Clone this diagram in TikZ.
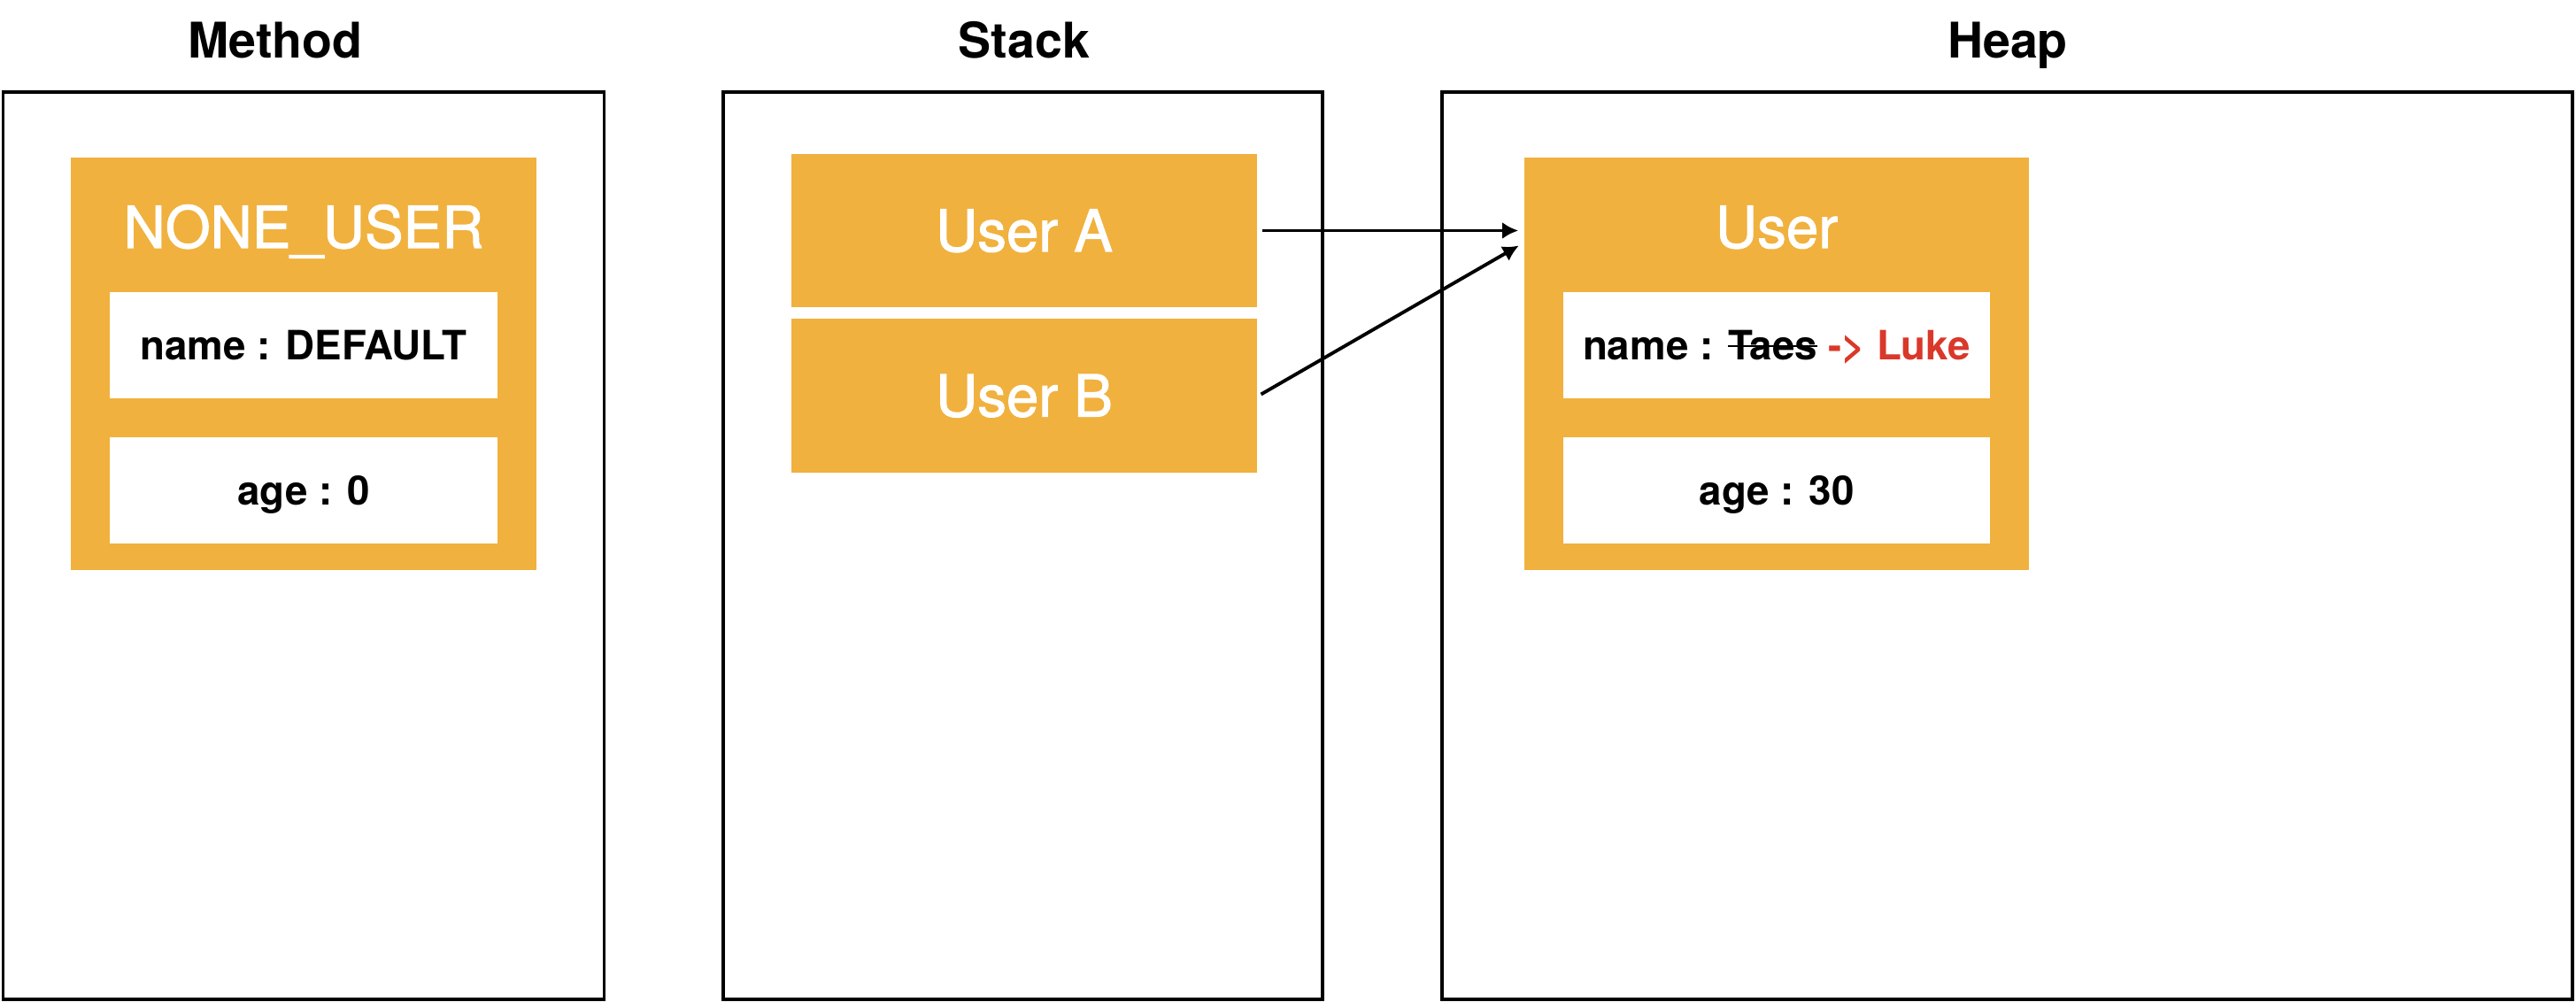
\documentclass[tikz,border=0pt]{standalone}
\usepackage{fontspec}
\setmainfont{TeX Gyre Heros}
\newfontfamily\medfont{TeX Gyre Heros}[FakeBold=1.6]
\usetikzlibrary{arrows.meta, positioning}
\definecolor{boxorange}{RGB}{241,177,62}
\definecolor{newred}{RGB}{218,56,42}
\newcommand\strikeword[1]{\sbox0{#1}\rlap{\rule[0.32em]{\wd0}{0.5pt}}\usebox0}
\tikzset{>={Latex[length=1.8mm,width=1.9mm]}}
\tikzset{
  area/.style={draw, line width=1pt, minimum height=10.25cm, inner sep=0pt},
  title/.style={font=\bfseries\fontsize{15.8}{18}\selectfont, anchor=base},
  obj/.style={fill=boxorange, inner sep=0pt, minimum height=4.66cm},
  head/.style={text=white, font=\fontsize{18.6}{22}\medfont, anchor=base},
  field/.style={fill=white, inner sep=0pt, minimum height=1.2cm, text height=0.33cm, text depth=0pt, font=\bfseries\fontsize{13}{16}\selectfont},
  ref/.style={fill=boxorange, inner sep=0pt, minimum width=5.26cm, minimum height=1.73cm, text=white, text height=0.47cm, text depth=0pt, font=\fontsize{18.6}{22}\medfont}
}

\begin{document}
\begin{tikzpicture}[line width=1.1pt]
      \useasboundingbox (0,0) rectangle (29.1,-11.32);

      % memory areas
      \node[area, minimum width=6.79cm]	(Method)	at	(3.43,-6.165)	{};
      \node[area, minimum width=6.77cm]	(Stack)	at	(11.555,-6.165)	{};
      \node[area, minimum width=12.77cm]	(Heap)	at	(22.675,-6.165)	{};
      \node[title]	(TMethod)	at	(3.11,-0.655)	{Method};
      \node[title]	(TStack)	at	(11.57,-0.655)	{Stack};
      \node[title]	(THeap)	at	(22.68,-0.655)	{Heap};

      % method area object
      \node[obj, minimum width=5.26cm]	(MO)	at	(3.43,-4.11)	{};
      \node[head]	(MOname)	at	(3.43,-2.80)	{NONE\_USER};
      \node[field, minimum width=4.38cm]	(MF1)	at	(3.43,-3.90)	{name : DEFAULT};
      \node[field, minimum width=4.38cm]	(MF2)	at	(3.43,-5.54)	{age : 0};

      % stack references
      \node[ref]	(RA)	at	(11.57,-2.605)	{User A};
      \node[ref]	(RB)	at	(11.57,-4.47)	{User B};

      % heap object
      \node[obj, minimum width=5.70cm]	(HO)	at	(20.07,-4.11)	{};
      \node[head]	(HOname)	at	(20.07,-2.80)	{User};
      \node[field, minimum width=4.82cm]	(HF1)	at	(20.07,-3.90)	{name : \strikeword{Taes} \textcolor{newred}{-> Luke}};
      \node[field, minimum width=4.82cm]	(HF2)	at	(20.07,-5.54)	{age : 30};

      \coordinate	(inA)	at	(HO.west |- RA.east);
      \draw[->, shorten <=0.04cm, shorten >=0.05cm](RA.east) -- (inA);
      \draw[->, shorten <=0.03cm, shorten >=0.05cm](RB.east) -- ([yshift=-0.145cm]inA);
\end{tikzpicture}
\end{document}
